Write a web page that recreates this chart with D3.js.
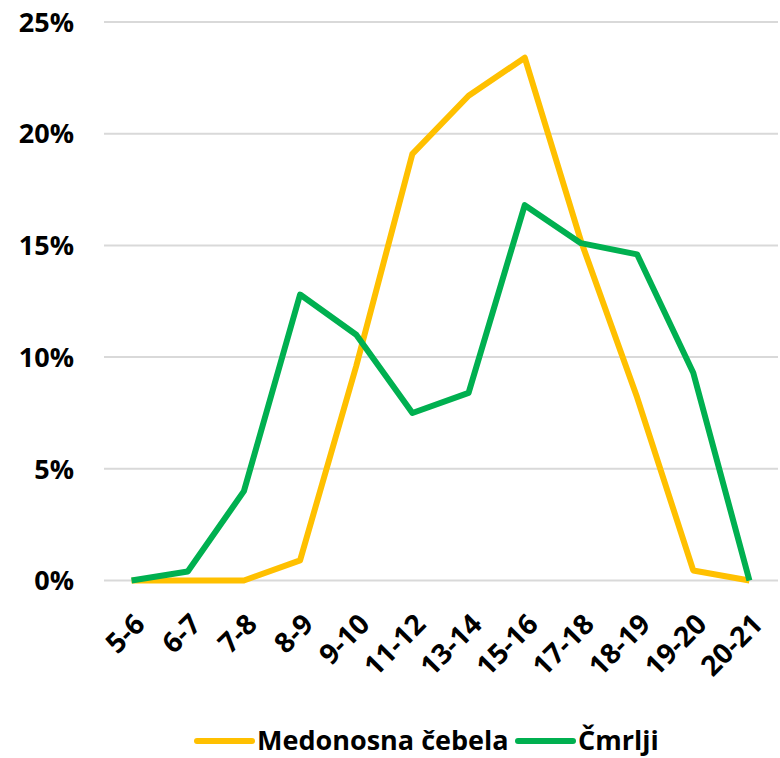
<!DOCTYPE html>
<html>
<head>
<meta charset="utf-8">
<script src="https://cdn.jsdelivr.net/npm/d3@7"></script>
<style>
  body { margin: 0; background: #fff; }
  text { font-family: "Open Sans", "Noto Sans", sans-serif; font-weight: 700; fill: #000; }
</style>
</head>
<body>
<svg id="svg" width="780" height="758"></svg>
<script>
const hours = ["5-6", "6-7", "7-8", "8-9", "9-10", "11-12", "13-14", "15-16", "17-18", "18-19", "19-20", "20-21"];
const honeyBee = [0, 0, 0, 0.9, 9.6, 19.1, 21.7, 23.4, 15.2, 8.2, 0.45, 0];
const bumblebees = [0, 0.4, 4.0, 12.8, 11.0, 7.5, 8.4, 16.8, 15.1, 14.6, 9.3, 0];
const yTicks = [0, 5, 10, 15, 20, 25];

const series = [
  { name: "Medonosna čebela", values: honeyBee, color: "#FFC000" },
  { name: "Čmrlji", values: bumblebees, color: "#00B050" }
];

const svg = d3.select("#svg");

const x = d3.scaleBand().domain(hours).range([103.5, 777.5]);
const y = d3.scaleLinear().domain([0, 25]).range([580.5, 22]);

// gridlines
svg.append("g")
  .selectAll("line")
  .data(yTicks)
  .join("line")
  .attr("x1", 104)
  .attr("x2", 778)
  .attr("y1", d => y(d))
  .attr("y2", d => y(d))
  .attr("stroke", "#d9d9d9")
  .attr("stroke-width", 2);

// y labels
svg.append("g")
  .selectAll("text")
  .data(yTicks)
  .join("text")
  .attr("x", 74)
  .attr("y", d => y(d))
  .attr("dy", "0.36em")
  .attr("text-anchor", "end")
  .attr("font-size", 27)
  .text(d => d + "%");

// x labels
svg.append("g")
  .selectAll("text")
  .data(hours)
  .join("text")
  .attr("text-anchor", "end")
  .attr("font-size", 28)
  .attr("transform", d => `translate(${x(d) + x.bandwidth() / 2 + 15},${626}) rotate(-45)`)
  .text(d => d);

const line = d3.line()
  .x((d, i) => x(hours[i]) + x.bandwidth() / 2)
  .y(d => y(d));

svg.append("g")
  .selectAll("path")
  .data(series)
  .join("path")
  .attr("d", d => line(d.values))
  .attr("fill", "none")
  .attr("stroke", d => d.color)
  .attr("stroke-width", 6)
  .attr("stroke-linejoin", "round");

// legend
const legend = svg.append("g");
const legendX = [197, 518];
series.forEach((s, i) => {
  legend.append("line")
    .attr("x1", legendX[i])
    .attr("x2", legendX[i] + 55)
    .attr("y1", 741)
    .attr("y2", 741)
    .attr("stroke", s.color)
    .attr("stroke-width", 6)
    .attr("stroke-linecap", "round");
  legend.append("text")
    .attr("x", legendX[i] + 60)
    .attr("y", 750)
    .attr("font-size", 27)
    .text(s.name);
});
</script>
</body>
</html>
